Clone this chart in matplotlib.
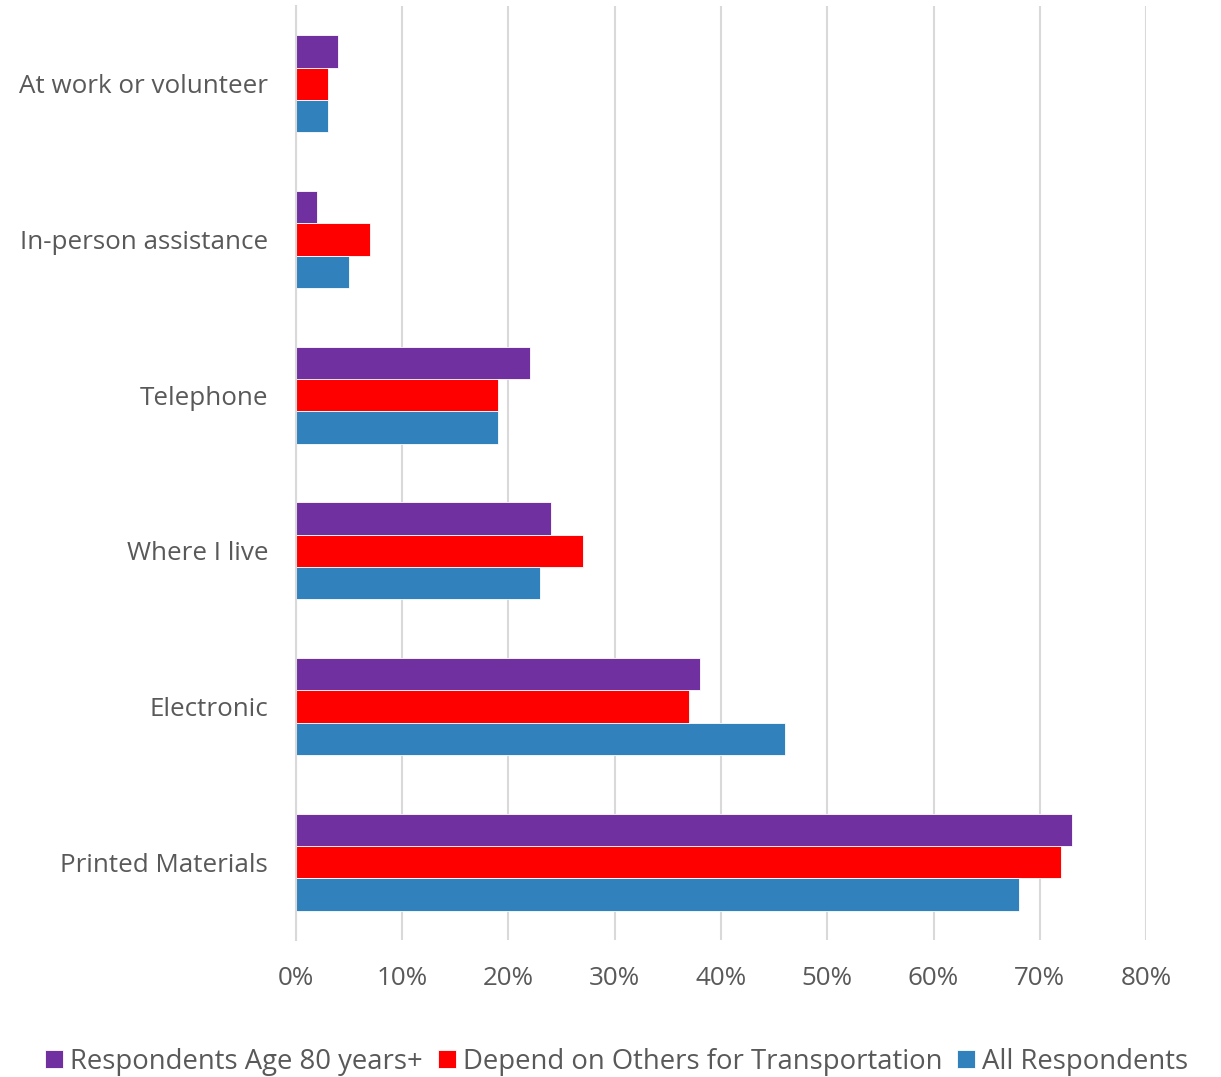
import matplotlib.pyplot as plt
import numpy as np

plt.rcParams['font.family'] = ['Open Sans', 'DejaVu Sans']

categories = ["Printed Materials", "Electronic", "Where I live", "Telephone",
              "In-person assistance", "At work or volunteer"]
age_80_plus = [73, 38, 24, 22, 2, 4]
depend_transport = [72, 37, 27, 19, 7, 3]
all_respondents = [68, 46, 23, 19, 5, 3]

series = [
    ("Respondents Age 80 years+", age_80_plus, "#7030A0"),
    ("Depend on Others for Transportation", depend_transport, "#FF0000"),
    ("All Respondents", all_respondents, "#3181BD"),
]

text_color = "#595959"
fig = plt.figure(figsize=(12.21, 10.77), dpi=100)
ax = fig.add_axes([0.2424, 0.1272, 0.6962, 0.8672])

y = np.arange(len(categories))
h = 0.208
offsets = [h, 0, -h]
for (name, vals, color), off in zip(series, offsets):
    ax.barh(y + off, vals, height=h, color=color, label=name,
            edgecolor="white", linewidth=0.6)

ax.set_xlim(0, 80)
ax.set_ylim(-0.5, 5.5)
ax.set_xticks(np.arange(0, 81, 10))
ax.set_xticklabels([f"{v}%" for v in range(0, 81, 10)])
ax.set_yticks(y)
ax.set_yticklabels(categories)
ax.tick_params(axis="both", length=0, labelsize=18.7, labelcolor=text_color)
ax.tick_params(axis="x", pad=19)
ax.tick_params(axis="y", pad=20)
ax.grid(axis="x", color="#D9D9D9", linewidth=1.5)
ax.set_axisbelow(True)
for s in ["top", "right", "bottom"]:
    ax.spines[s].set_visible(False)
ax.spines["left"].set_color("#D9D9D9")
ax.spines["left"].set_linewidth(1.5)

leg = fig.legend(loc="lower center", bbox_to_anchor=(0.505, -0.022), ncol=3,
                 frameon=False, fontsize=19.8, handlelength=0.65, handleheight=0.65,
                 handletextpad=0.25, columnspacing=0.55, labelcolor=text_color)

fig.savefig("out.png", dpi=100)
